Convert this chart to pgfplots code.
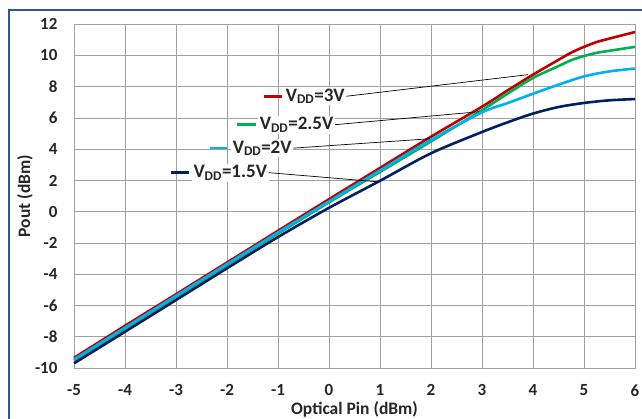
\documentclass[border=0pt]{standalone}
\usepackage{pgfplots}
\pgfplotsset{compat=1.18}
\usepackage{fontspec}
\setmainfont{Carlito}
\definecolor{cred}{RGB}{192,0,0}
\definecolor{cgreen}{RGB}{0,176,80}
\definecolor{ccyan}{RGB}{0,176,240}
\definecolor{cnavy}{RGB}{0,32,96}
\definecolor{frameblue}{RGB}{47,85,151}
\definecolor{gridgray}{RGB}{160,160,160}
\begin{document}
\begin{tikzpicture}
\useasboundingbox (0,0) rectangle (642pt,418pt);
\draw[frameblue, line width=2.6pt] (9pt,-5pt) -- (9pt,408pt) -- (650pt,408pt);
\begin{axis}[
  at={(74pt,50pt)}, anchor=south west,
  scale only axis, width=561pt, height=343.8pt,
  xmin=-5, xmax=6, ymin=-10, ymax=12,
  xtick={-5,...,6}, ytick={-10,-8,...,12},
  grid=major,
  grid style={gridgray, line width=0.8pt},
  axis line style={gridgray, line width=0.8pt},
  major tick length=0pt,
  /pgf/number format/assume math mode=true,
  tick label style={font=\fontsize{17}{19}\selectfont\bfseries, text=black!85},
  yticklabel style={xshift=-13pt},
  xticklabel style={yshift=-13pt},
  xlabel={Optical Pin (dBm)},
  ylabel={Pout (dBm)},
  label style={font=\fontsize{17.5}{19}\selectfont\bfseries, text=black!85},
  xlabel style={at={(axis description cs:0.5,-0.1193)}, anchor=center},
  ylabel style={at={(axis description cs:-0.0873,0.5)}, anchor=center},
  clip=false,
]
\addplot[cred, line width=2.6pt, smooth] coordinates {
(-5,-9.35) (-4,-7.3) (-3,-5.28) (-2,-3.25) (-1,-1.22) (0,0.8) (1,2.8) (2,4.8) (3,6.72) (3.5,7.76) (4,8.77) (4.5,9.72) (4.75,10.18) (5,10.55) (5.25,10.86) (5.5,11.08) (6,11.5)};
\addplot[cgreen, line width=2.6pt, smooth] coordinates {
(-5,-9.52) (-4,-7.48) (-3,-5.45) (-2,-3.42) (-1,-1.4) (0,0.6) (1,2.55) (2,4.5) (3,6.5) (3.5,7.55) (4,8.56) (4.5,9.32) (4.75,9.7) (5,9.96) (5.25,10.17) (5.5,10.3) (6,10.55)};
\addplot[ccyan, line width=2.6pt, smooth] coordinates {
(-5,-9.45) (-4,-7.42) (-3,-5.38) (-2,-3.35) (-1,-1.33) (0,0.66) (1,2.64) (2,4.6) (3,6.36) (3.5,6.95) (4,7.55) (4.5,8.13) (5,8.66) (5.5,8.98) (6,9.16)};
\addplot[cnavy, line width=2.6pt, smooth] coordinates {
(-5,-9.7) (-4,-7.68) (-3,-5.65) (-2,-3.62) (-1,-1.62) (0,0.25) (1,1.98) (2,3.74) (3,5.1) (3.5,5.72) (4,6.28) (4.5,6.7) (5,6.96) (5.5,7.13) (6,7.21)};
% annotations
\tikzset{lab/.style={anchor=west, fill=white, inner sep=1.5pt, font=\fontsize{19}{21}\selectfont\bfseries, text=black!85}}
\node[lab] (t1) at (axis cs:-0.88,7.39) {V\textsubscript{DD}=3V};
\node[lab] (t2) at (axis cs:-1.39,5.57) {V\textsubscript{DD}=2.5V};
\node[lab] (t3) at (axis cs:-1.92,4.07) {V\textsubscript{DD}=2V};
\node[lab] (t4) at (axis cs:-2.69,2.50) {V\textsubscript{DD}=1.5V};
\draw[black, line width=0.7pt] (t1.east) -- (axis cs:3.90,8.77);
\draw[black, line width=0.7pt] (t2.east) -- (axis cs:2.94,6.40);
\draw[black, line width=0.7pt] (t3.east) -- (axis cs:1.98,4.67);
\draw[black, line width=0.7pt] (t4.east) -- (axis cs:0.94,1.92);
\draw[cred, line width=2.6pt] (axis cs:-1.275,7.39) -- (axis cs:-0.92,7.39);
\draw[cgreen, line width=2.6pt] (axis cs:-1.80,5.57) -- (axis cs:-1.43,5.57);
\draw[ccyan, line width=2.6pt] (axis cs:-2.33,4.07) -- (axis cs:-2.0,4.07);
\draw[cnavy, line width=2.6pt] (axis cs:-3.10,2.50) -- (axis cs:-2.745,2.50);
\end{axis}
\end{tikzpicture}
\end{document}
